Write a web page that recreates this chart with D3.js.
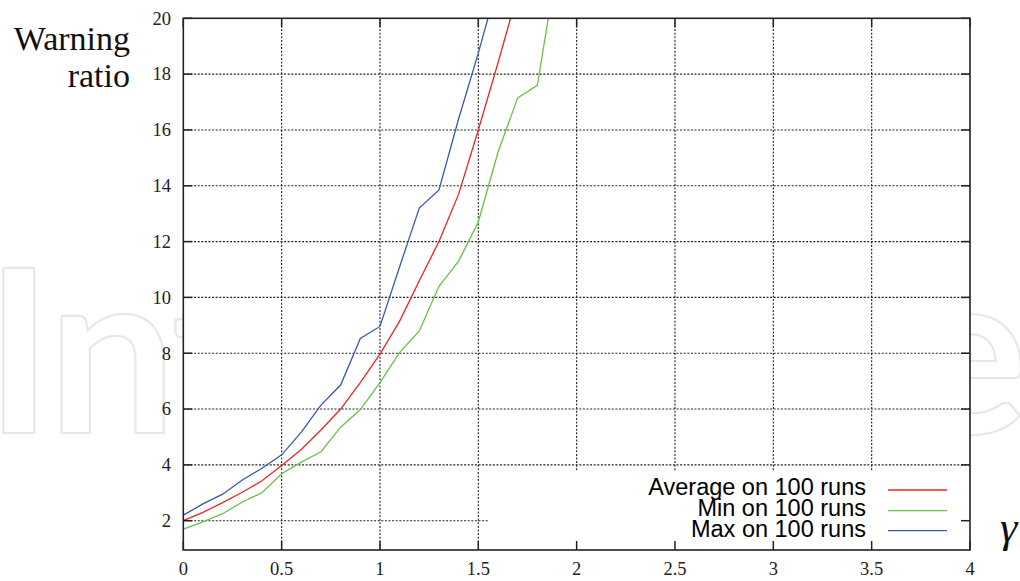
<!DOCTYPE html>
<html>
<head>
<meta charset="utf-8">
<script src="https://cdn.jsdelivr.net/npm/d3@7"></script>
<style>
  html, body { margin: 0; padding: 0; background: #fff; }
  svg { display: block; }
</style>
</head>
<body>
<svg id="chart" width="1020" height="581"></svg>
<script>
// ---- data ----
const gammaAvg = [0, 0.1, 0.2, 0.3, 0.4, 0.5, 0.6, 0.7, 0.8, 0.9, 1.0, 1.1, 1.2, 1.3, 1.4, 1.5, 1.6, 1.7];
const avgValues = [2.0, 2.3, 2.65, 3.02, 3.43, 3.98, 4.55, 5.25, 6.0, 6.95, 7.97, 9.15, 10.6, 12.0, 13.7, 16.0, 18.4, 20.9];

const gammaMin = [0, 0.1, 0.2, 0.3, 0.4, 0.5, 0.6, 0.7, 0.8, 0.9, 1.0, 1.1, 1.2, 1.3, 1.4, 1.5, 1.6, 1.7, 1.8, 1.9];
const minValues = [1.7, 1.96, 2.25, 2.67, 3.0, 3.68, 4.1, 4.47, 5.35, 5.98, 6.95, 8.03, 8.8, 10.4, 11.3, 12.7, 15.2, 17.15, 17.6, 21.9];

const gammaMax = [0, 0.1, 0.2, 0.3, 0.4, 0.5, 0.6, 0.7, 0.8, 0.9, 1.0, 1.1, 1.2, 1.3, 1.4, 1.5, 1.6];
const maxValues = [2.2, 2.6, 2.95, 3.46, 3.88, 4.36, 5.17, 6.14, 6.86, 8.53, 8.96, 11.1, 13.2, 13.85, 16.4, 18.75, 21.3];

const xTicks = [0, 0.5, 1, 1.5, 2, 2.5, 3, 3.5, 4];
const xTickLabels = ["0", "0.5", "1", "1.5", "2", "2.5", "3", "3.5", "4"];
const yTicks = [2, 4, 6, 8, 10, 12, 14, 16, 18, 20];
const yTickLabels = ["2", "4", "6", "8", "10", "12", "14", "16", "18", "20"];

const seriesNames = ["Average on 100 runs", "Min on 100 runs", "Max on 100 runs"];
const seriesColors = ["#ee2424", "#66c444", "#3a58ad"];

// ---- layout ----
const svg = d3.select("#chart");
const L = 183.3, R = 970, T = 18.3, B = 550;
const x = d3.scaleLinear().domain([0, 4]).range([L, R]);
const y = d3.scaleLinear().domain([0.95, 20]).range([B, T]);

// watermark
const wm = svg.append("text")
  .attr("x", 0).attr("y", 433)
  .attr("font-family", "Lato, 'Open Sans', sans-serif")
  .attr("font-weight", 700)
  .attr("font-size", 228)
  .attr("fill", "#fff")
  .attr("stroke", "#e8e8e8")
  .attr("stroke-width", 2.2)
  .text("IntechOpen");
try {
  const n = wm.node();
  const e0 = n.getExtentOfChar(0);
  const e8 = n.getExtentOfChar(8);
  const d0 = e8.x + e8.width - e0.x;
  const ls = (1043 - d0) / 8;
  wm.attr("letter-spacing", ls).attr("x", -15 - e0.x);
} catch (e) {}

// plot background
svg.append("rect").attr("x", L).attr("y", T).attr("width", R - L).attr("height", B - T).attr("fill", "#fff");

// grid
const grid = svg.append("g").attr("stroke", "#222").attr("stroke-width", 1.1).attr("stroke-dasharray", "2,1.6");
grid.selectAll("line.v").data(xTicks.slice(1, -1)).join("line")
  .attr("x1", d => x(d)).attr("x2", d => x(d)).attr("y1", T).attr("y2", B);
grid.selectAll("line.h").data(yTicks.slice(0, -1)).join("line")
  .attr("x1", L).attr("x2", R).attr("y1", d => y(d)).attr("y2", d => y(d));

// lines
const clip = svg.append("clipPath").attr("id", "clip").append("rect")
  .attr("x", L).attr("y", T).attr("width", R - L).attr("height", B - T);
const lineGen = d3.line().x(d => x(d[0])).y(d => y(d[1]));
const series = [
  d3.zip(gammaAvg, avgValues),
  d3.zip(gammaMin, minValues),
  d3.zip(gammaMax, maxValues)
];
const lg = svg.append("g").attr("clip-path", "url(#clip)");
series.forEach((s, i) => {
  lg.append("path").attr("d", lineGen(s)).attr("fill", "none")
    .attr("stroke", seriesColors[i]).attr("stroke-width", 1.3);
});

// legend background
svg.append("rect").attr("x", 488).attr("y", 472).attr("width", R - 488).attr("height", B - 472).attr("fill", "#fff");

// legend
const legY = [495, 516, 537];
const legLineY = [490, 510.7, 530.7];
seriesNames.forEach((n, i) => {
  svg.append("text").attr("x", 866).attr("y", legY[i]).attr("text-anchor", "end")
    .attr("font-family", "'Liberation Sans', Arial, sans-serif").attr("font-size", 23.5)
    .attr("fill", "#000").text(n);
  svg.append("line").attr("x1", 888).attr("x2", 947).attr("y1", legLineY[i]).attr("y2", legLineY[i])
    .attr("stroke", seriesColors[i]).attr("stroke-width", 1.3);
});

// ticks (inside, mirrored)
const tk = svg.append("g").attr("stroke", "#222").attr("stroke-width", 1.5);
xTicks.forEach(t => {
  tk.append("line").attr("x1", x(t)).attr("x2", x(t)).attr("y1", B).attr("y2", B - 9);
  tk.append("line").attr("x1", x(t)).attr("x2", x(t)).attr("y1", T).attr("y2", T + 9);
});
yTicks.forEach(t => {
  tk.append("line").attr("x1", L).attr("x2", L + 9).attr("y1", y(t)).attr("y2", y(t));
  tk.append("line").attr("x1", R).attr("x2", R - 9).attr("y1", y(t)).attr("y2", y(t));
});

// frame
svg.append("rect").attr("x", L).attr("y", T).attr("width", R - L).attr("height", B - T)
  .attr("fill", "none").attr("stroke", "#222").attr("stroke-width", 1.6);

// tick labels
const tf = "Liberation Serif, Times New Roman, serif";
svg.append("g").selectAll("text").data(xTicks).join("text")
  .attr("x", d => x(d)).attr("y", 575).attr("text-anchor", "middle")
  .style("font-family", tf).style("font-size", "18.5px").attr("fill", "#222")
  .text((d, i) => xTickLabels[i]);
svg.append("g").selectAll("text").data(yTicks).join("text")
  .attr("x", 171).attr("y", d => y(d) + 6.3).attr("text-anchor", "end")
  .style("font-family", tf).style("font-size", "18.5px").attr("fill", "#222")
  .text((d, i) => yTickLabels[i]);

// axis titles
svg.append("text").attr("x", 130).attr("y", 50).attr("text-anchor", "end")
  .style("font-family", tf).style("font-size", "34px").attr("fill", "#111").text("Warning");
svg.append("text").attr("x", 130).attr("y", 87).attr("text-anchor", "end")
  .style("font-family", tf).style("font-size", "34px").attr("fill", "#111").text("ratio");
svg.append("text").attr("x", 1000).attr("y", 542)
  .style("font-family", "Liberation Serif, serif").style("font-style", "italic").style("font-size", "44px").attr("fill", "#111").text("γ");
</script>
</body>
</html>
